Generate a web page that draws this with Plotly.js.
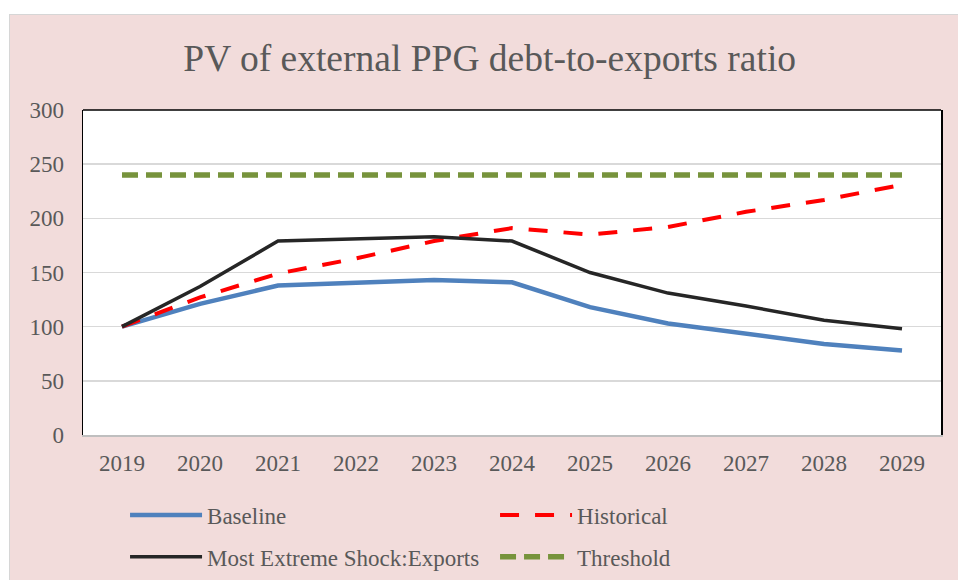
<!DOCTYPE html>
<html>
<head>
<meta charset="utf-8">
<script src="https://cdn.plot.ly/plotly-3.0.1.min.js"></script>
<style>
  html, body { margin: 0; padding: 0; background: #ffffff; width: 958px; height: 580px; overflow: hidden; }
  #frame { position: absolute; left: 9px; top: 14px; width: 949px; height: 566px; box-sizing: border-box;
           border-left: 1px solid #d6d6d6; border-top: 1px solid #d6d6d6; background: #F2DCDB; }
  #chart { width: 948px; height: 565px; }
</style>
</head>
<body>
<div id="frame"><div id="chart"></div></div>
<script>
const years = ["2019","2020","2021","2022","2023","2024","2025","2026","2027","2028","2029"];
const baseline = [100, 121, 138, 140, 143, 141, 118, 103, 94, 84, 78];
const historical = [100, 127, 149, 163, 179, 191, 185, 192, 206, 217, 231];
const mostExtreme = [100, 137, 179, 181, 183, 179, 150, 131, 119, 106, 98];
const threshold = [240, 240, 240, 240, 240, 240, 240, 240, 240, 240, 240];
const yTicks = [0, 50, 100, 150, 200, 250, 300];

const textColor = '#595959';
const fontFam = '"Liberation Serif", "Times New Roman", serif';

const traces = [
  { x: years, y: baseline, name: 'Baseline', type: 'scatter', mode: 'lines',
    line: { color: '#4F81BD', width: 4.5 }, legend: 'legend' },
  { x: years, y: historical, name: 'Historical', type: 'scatter', mode: 'lines',
    line: { color: '#FF0000', width: 4, dash: '19px,16px' }, legend: 'legend' },
  { x: years, y: mostExtreme, name: 'Most Extreme Shock:Exports', type: 'scatter', mode: 'lines',
    line: { color: '#262626', width: 3.5 }, legend: 'legend2' },
  { x: years, y: threshold, name: 'Threshold', type: 'scatter', mode: 'lines',
    line: { color: '#77933C', width: 5.5, dash: '16px,8px' }, legend: 'legend2' }
];

const legendCommon = {
  orientation: 'h', xanchor: 'left', yanchor: 'middle',
  bgcolor: 'rgba(0,0,0,0)', borderwidth: 0,
  font: { family: fontFam, size: 23, color: textColor },
  itemwidth: 72, entrywidth: 283, entrywidthmode: 'pixels',
  itemclick: false, itemdoubleclick: false
};

const layout = {
  width: 948, height: 565,
  margin: { l: 73, r: 17, t: 95, b: 145, autoexpand: false },
  paper_bgcolor: '#F2DCDB',
  plot_bgcolor: '#FFFFFF',
  title: {
    text: 'PV of external PPG debt-to-exports ratio',
    font: { family: fontFam, size: 37.5, color: textColor },
    x: 0.506, xanchor: 'center', xref: 'container',
    y: 0.925, yanchor: 'middle', yref: 'container'
  },
  showlegend: true,
  legend: Object.assign({}, legendCommon, { x: 0.049, y: -0.246 }),
  legend2: Object.assign({}, legendCommon, { x: 0.049, y: -0.375 }),
  xaxis: {
    type: 'category',
    range: [-0.5, 10.5],
    tickvals: years, ticktext: years,
    showline: true, linecolor: '#BFBFBF', linewidth: 1.5, mirror: false,
    showgrid: false, zeroline: false,
    ticks: 'outside', ticklen: 7, tickcolor: 'rgba(0,0,0,0)',
    tickfont: { family: fontFam, size: 23, color: textColor },
    fixedrange: true
  },
  yaxis: {
    range: [0, 300],
    tickvals: yTicks, ticktext: yTicks.map(String),
    showline: true, linecolor: '#000000', linewidth: 1.5, mirror: true,
    showgrid: true, gridcolor: '#D9D9D9', gridwidth: 1.5,
    zeroline: false,
    ticks: 'outside', ticklen: 13, tickcolor: 'rgba(0,0,0,0)',
    tickfont: { family: fontFam, size: 23, color: textColor },
    fixedrange: true
  },
  shapes: [
    { type: 'line', xref: 'paper', yref: 'paper', x0: 0, x1: 1, y0: 1, y1: 1,
      line: { color: '#000000', width: 1.5 }, layer: 'above' }
  ]
};

Plotly.newPlot('chart', traces, layout, { displayModeBar: false, staticPlot: true });
</script>
</body>
</html>
